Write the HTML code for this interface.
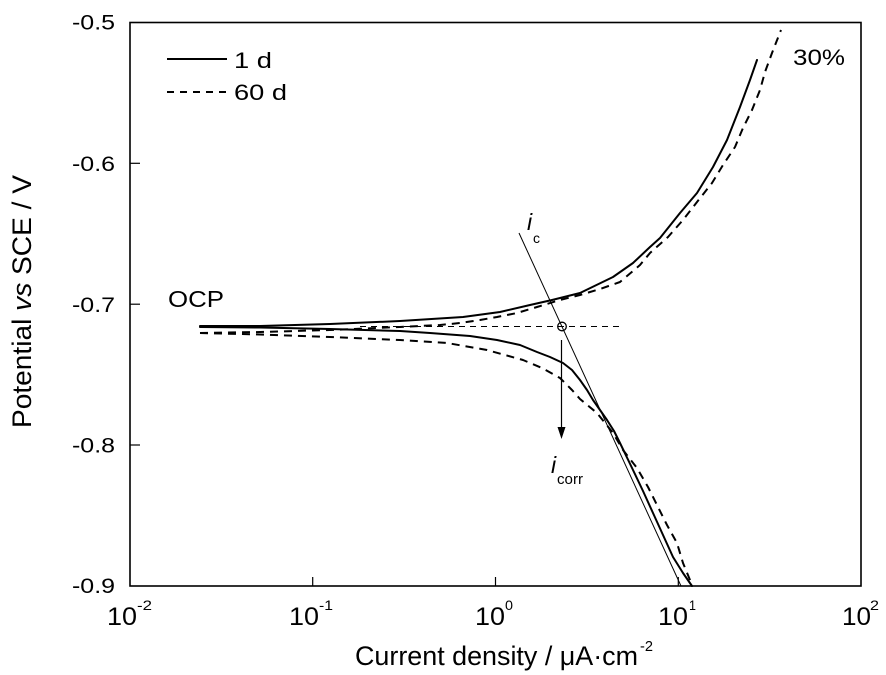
<!DOCTYPE html>
<html>
<head>
<meta charset="utf-8">
<style>
  html, body { margin: 0; padding: 0; background: #fff; }
  svg { display: block; }
  text { font-family: "Liberation Sans", Arial, sans-serif; fill: #000; }
</style>
</head>
<body>
<svg width="886" height="675" viewBox="0 0 886 675" xmlns="http://www.w3.org/2000/svg">
  <rect x="0" y="0" width="886" height="675" fill="#fff"/>

  <!-- plot frame -->
  <rect x="130" y="22.5" width="731" height="563.5" fill="none" stroke="#000" stroke-width="1.6"/>

  <!-- x ticks (inward) -->
  <g stroke="#000" stroke-width="1.2">
    <line x1="312.7" y1="586" x2="312.7" y2="577"/>
    <line x1="495.5" y1="586" x2="495.5" y2="577"/>
    <line x1="678.3" y1="586" x2="678.3" y2="577"/>
    <!-- y ticks -->
    <line x1="130" y1="163.3" x2="140" y2="163.3"/>
    <line x1="130" y1="304.2" x2="140" y2="304.2"/>
    <line x1="130" y1="445" x2="140" y2="445"/>
  </g>

  <!-- y tick labels -->
  <g font-size="21">
    <text x="72" y="29.5" textLength="43" lengthAdjust="spacingAndGlyphs">-0.5</text>
    <text x="72" y="171" textLength="43" lengthAdjust="spacingAndGlyphs">-0.6</text>
    <text x="72" y="312" textLength="43" lengthAdjust="spacingAndGlyphs">-0.7</text>
    <text x="72" y="452.5" textLength="43" lengthAdjust="spacingAndGlyphs">-0.8</text>
    <text x="72" y="593" textLength="43" lengthAdjust="spacingAndGlyphs">-0.9</text>
  </g>

  <!-- x tick labels -->
  <g>
    <text x="107" y="625" font-size="25" textLength="30" lengthAdjust="spacingAndGlyphs">10</text>
    <text x="137" y="610" font-size="14" textLength="15" lengthAdjust="spacingAndGlyphs">-2</text>

    <text x="289" y="625" font-size="25" textLength="30" lengthAdjust="spacingAndGlyphs">10</text>
    <text x="319" y="610" font-size="14" textLength="14" lengthAdjust="spacingAndGlyphs">-1</text>

    <text x="475" y="625" font-size="25" textLength="30" lengthAdjust="spacingAndGlyphs">10</text>
    <text x="505" y="610" font-size="14" textLength="8" lengthAdjust="spacingAndGlyphs">0</text>

    <text x="658" y="625" font-size="25" textLength="30" lengthAdjust="spacingAndGlyphs">10</text>
    <text x="689" y="610" font-size="14" textLength="7" lengthAdjust="spacingAndGlyphs">1</text>

    <text x="842" y="625" font-size="25" textLength="29" lengthAdjust="spacingAndGlyphs">10</text>
    <text x="870" y="610" font-size="14" textLength="9" lengthAdjust="spacingAndGlyphs">2</text>
  </g>

  <!-- axis titles -->
  <text x="355" y="665" font-size="27" textLength="283" lengthAdjust="spacingAndGlyphs">Current density / μA·cm</text>
  <text x="640" y="651" font-size="15" textLength="13" lengthAdjust="spacingAndGlyphs">-2</text>

  <text transform="translate(31,428) rotate(-90)" x="0" y="0" font-size="27" textLength="253" lengthAdjust="spacingAndGlyphs">Potential <tspan font-style="italic">vs</tspan> SCE / V</text>

  <!-- legend -->
  <line x1="167" y1="59" x2="227" y2="59" stroke="#000" stroke-width="2"/>
  <text x="234" y="68" font-size="22" textLength="38" lengthAdjust="spacingAndGlyphs">1 d</text>
  <line x1="167" y1="92" x2="230" y2="92" stroke="#000" stroke-width="2" stroke-dasharray="7,6"/>
  <text x="234" y="100" font-size="22" textLength="53" lengthAdjust="spacingAndGlyphs">60 d</text>

  <!-- annotations -->
  <text x="793" y="65" font-size="22" textLength="52" lengthAdjust="spacingAndGlyphs">30%</text>
  <text x="168" y="307" font-size="23" textLength="56" lengthAdjust="spacingAndGlyphs">OCP</text>

  <text x="527" y="230" font-size="23" font-style="italic">i</text>
  <text x="533" y="243" font-size="14">c</text>
  <text x="551" y="473" font-size="23" font-style="italic">i</text>
  <text x="557" y="484" font-size="15" textLength="26" lengthAdjust="spacingAndGlyphs">corr</text>

  <!-- OCP horizontal dashed reference -->
  <line x1="360" y1="326.5" x2="620" y2="326.5" stroke="#000" stroke-width="1" stroke-dasharray="6,5"/>

  <!-- Tafel line -->
  <line x1="519" y1="233" x2="681" y2="586" stroke="#000" stroke-width="1"/>

  <!-- circle -->
  <circle cx="562" cy="326.5" r="4.3" fill="none" stroke="#000" stroke-width="1.3"/>

  <!-- arrow -->
  <line x1="561.5" y1="340" x2="561.5" y2="430" stroke="#000" stroke-width="1.2"/>
  <polygon points="557.5,427 565.5,427 561.5,439" fill="#000"/>

  <!-- 1 d curves (solid) -->
  <g fill="none" stroke="#000" stroke-width="2" stroke-linejoin="round" stroke-linecap="round">
    <polyline points="200,326 260,326 330,324 400,321 463,317 500,312 530,305 552,300 580,293 613,277 633,263 650,247 660,238 680,213 697,193 713,167 727,140 740,107 750,80 757,60"/>
    <polyline points="200,327 260,327.5 330,329 400,331 430,333 470,336 497,340 520,345 537,352 550,357 563,363 572,370 580,380 587,390 593,400 600,410 607,420 614,431 620,443 633,470 643,491 653,513 663,535 673,557 683,573 692,586"/>
  </g>

  <!-- 60 d curves (dashed) -->
  <g fill="none" stroke="#000" stroke-width="2" stroke-linejoin="round" stroke-dasharray="8,6">
    <polyline points="200,333 260,332 330,330 400,327 440,325 460,323 480,320 497,317 517,313 537,307 560,300 580,295 600,289 620,282 640,265 650,253 668,237 683,220 697,202 712,183 723,165 735,147 743,128 752,110 760,90 765,72 772,53 781,30"/>
    <polyline points="200,333 260,334.5 330,337 400,340 447,343 487,350 523,360 542,368 560,378 572,390 580,399 597,413 613,433 623,450 637,468 648,487 658,507 667,525 677,543 683,563 690,580 692,586"/>
  </g>
</svg>
</body>
</html>
